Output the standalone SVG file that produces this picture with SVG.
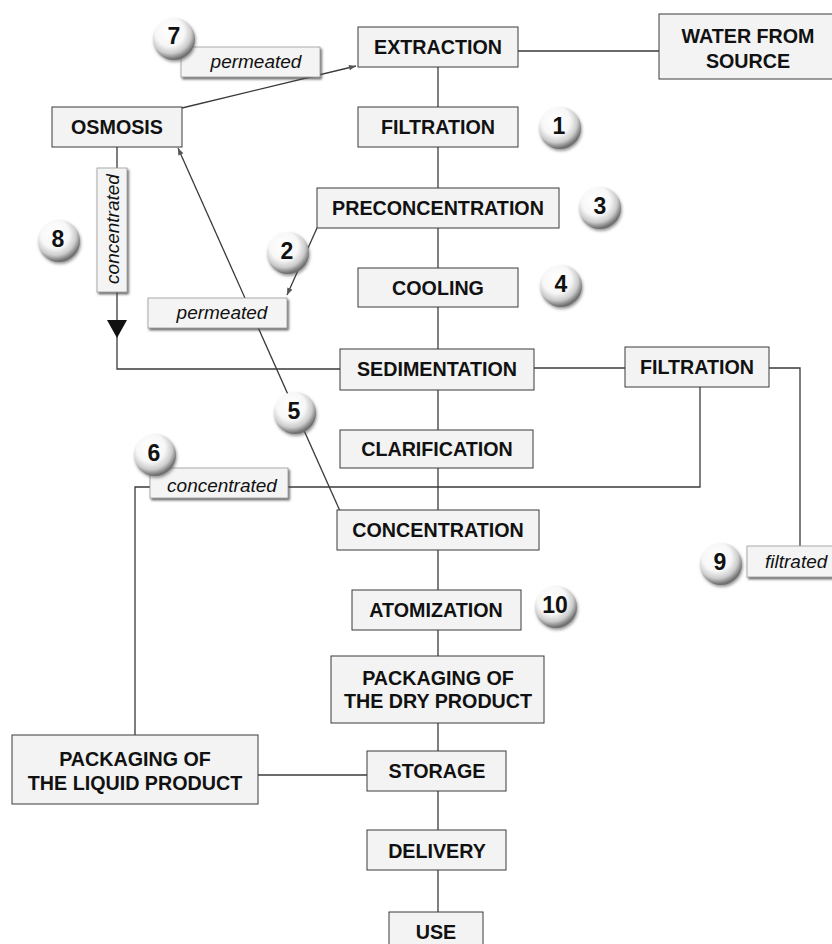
<svg xmlns="http://www.w3.org/2000/svg" width="832" height="944" viewBox="0 0 832 944">
<defs>
<style>
.box{fill:#f3f3f3;stroke:#3a3a3a;stroke-width:1}
.lbl{fill:#f4f4f4;stroke:#9a9a9a;stroke-width:0.8;filter:url(#sh)}
.t{font-family:"Liberation Sans",Arial,sans-serif;font-weight:bold;font-size:19.7px;fill:#111;text-anchor:middle}
.it{font-family:"Liberation Sans",Arial,sans-serif;font-style:italic;font-size:19px;fill:#111;text-anchor:middle}
.num{font-family:"Liberation Sans",Arial,sans-serif;font-weight:bold;font-size:23px;fill:#111;text-anchor:middle}
.ln{fill:none;stroke:#3a3a3a;stroke-width:1.3}
.ball{fill:url(#bg);filter:url(#bs)}
</style>
<radialGradient id="bg" cx="0.42" cy="0.36" r="0.62" fx="0.38" fy="0.3">
<stop offset="0" stop-color="#ffffff"/>
<stop offset="0.55" stop-color="#f7f7f7"/>
<stop offset="0.8" stop-color="#cccccc"/>
<stop offset="1" stop-color="#707070"/>
</radialGradient>
<filter id="sh" x="-10%" y="-20%" width="125%" height="160%">
<feDropShadow dx="1.5" dy="2" stdDeviation="1" flood-color="#444" flood-opacity="0.8"/>
</filter>
<filter id="bs" x="-30%" y="-30%" width="160%" height="160%">
<feDropShadow dx="1" dy="2" stdDeviation="1.5" flood-color="#555" flood-opacity="0.6"/>
</filter>
<marker id="ah" viewBox="0 0 10 10" refX="10" refY="5" markerWidth="9" markerHeight="7" markerUnits="userSpaceOnUse" orient="auto">
<path d="M0,1 L10,5 L0,9 Z" fill="#555"/>
</marker>
</defs>
<rect width="832" height="944" fill="#ffffff"/>

<g id="connectors">
<line class="ln" x1="438" y1="67" x2="438" y2="944"/>
<line class="ln" x1="518" y1="51" x2="659" y2="51"/>
<line class="ln" x1="182" y1="108" x2="356" y2="66" marker-end="url(#ah)"/>
<polyline class="ln" points="117,147 117,369 340,369"/>
<polygon points="107,320 127,320 117,338" fill="#111"/>
<line class="ln" x1="317" y1="228" x2="287" y2="295" marker-end="url(#ah)"/>
<line class="ln" x1="340" y1="511" x2="178" y2="148" marker-end="url(#ah)"/>
<line class="ln" x1="534" y1="368" x2="625" y2="368"/>
<polyline class="ln" points="769,368 800,368 800,546"/>
<polyline class="ln" points="700,387 700,487 135,487 135,735"/>
<line class="ln" x1="258" y1="775" x2="367" y2="775"/>
</g>

<g id="extraction"><rect class="box" x="358" y="27" width="160" height="40"/><text class="t" x="438" y="54">EXTRACTION</text></g>
<g id="water"><rect class="box" x="659" y="14" width="180" height="65"/><text class="t" x="748" y="43">WATER FROM</text><text class="t" x="748" y="68">SOURCE</text></g>
<g id="filtration1"><rect class="box" x="358" y="107" width="160" height="40"/><text class="t" x="438" y="134">FILTRATION</text></g>
<g id="osmosis"><rect class="box" x="52" y="107" width="130" height="40"/><text class="t" x="117" y="134">OSMOSIS</text></g>
<g id="preconcentration"><rect class="box" x="317" y="188" width="242" height="40"/><text class="t" x="438" y="215">PRECONCENTRATION</text></g>
<g id="cooling"><rect class="box" x="358" y="268" width="160" height="39"/><text class="t" x="438" y="295">COOLING</text></g>
<g id="sedimentation"><rect class="box" x="340" y="349" width="194" height="41"/><text class="t" x="437" y="376">SEDIMENTATION</text></g>
<g id="filtration2"><rect class="box" x="625" y="347" width="144" height="40"/><text class="t" x="697" y="374">FILTRATION</text></g>
<g id="clarification"><rect class="box" x="340" y="430" width="193" height="38"/><text class="t" x="437" y="456">CLARIFICATION</text></g>
<g id="concentration"><rect class="box" x="337" y="510" width="202" height="40"/><text class="t" x="438" y="537">CONCENTRATION</text></g>
<g id="atomization"><rect class="box" x="352" y="590" width="169" height="40"/><text class="t" x="436" y="617">ATOMIZATION</text></g>
<g id="packdry"><rect class="box" x="331" y="656" width="213" height="67"/><text class="t" x="438" y="685">PACKAGING OF</text><text class="t" x="438" y="708">THE DRY PRODUCT</text></g>
<g id="packliquid"><rect class="box" x="12" y="735" width="246" height="69"/><text class="t" x="135" y="766">PACKAGING OF</text><text class="t" x="135" y="790">THE LIQUID PRODUCT</text></g>
<g id="storage"><rect class="box" x="367" y="751" width="139" height="40"/><text class="t" x="437" y="778">STORAGE</text></g>
<g id="delivery"><rect class="box" x="367" y="830" width="139" height="40"/><text class="t" x="437" y="858">DELIVERY</text></g>
<g id="use"><rect class="box" x="389" y="912" width="94" height="40"/><text class="t" x="436" y="939">USE</text></g>

<g id="label7"><rect class="lbl" x="181" y="47" width="139" height="30"/><text class="it" x="256" y="68">permeated</text></g>
<g id="label2"><rect class="lbl" x="148" y="298" width="139" height="30"/><text class="it" x="222" y="319">permeated</text></g>
<g id="label6"><rect class="lbl" x="150" y="468" width="138" height="30"/><text class="it" x="222" y="492">concentrated</text></g>
<g id="label8"><rect class="lbl" x="97" y="168" width="30" height="124"/><text class="it" transform="translate(119,229) rotate(-90)" x="0" y="0">concentrated</text></g>
<g id="label9"><rect class="lbl" x="747" y="546" width="95" height="31"/><text class="it" x="765" y="568" style="text-anchor:start">filtrated</text></g>

<g id="ball7"><circle class="ball" cx="174" cy="39" r="21"/><text class="num" x="174" y="44">7</text></g>
<g id="ball1"><circle class="ball" cx="560" cy="128" r="21"/><text class="num" x="559" y="134">1</text></g>
<g id="ball3"><circle class="ball" cx="600" cy="208" r="21"/><text class="num" x="600" y="214">3</text></g>
<g id="ball8"><circle class="ball" cx="59" cy="241" r="21"/><text class="num" x="58" y="247">8</text></g>
<g id="ball2"><circle class="ball" cx="288" cy="253" r="21"/><text class="num" x="287" y="259">2</text></g>
<g id="ball4"><circle class="ball" cx="561" cy="286" r="21"/><text class="num" x="561" y="292">4</text></g>
<g id="ball5"><circle class="ball" cx="295" cy="413" r="21"/><text class="num" x="294" y="419">5</text></g>
<g id="ball6"><circle class="ball" cx="155" cy="455" r="21"/><text class="num" x="154" y="461">6</text></g>
<g id="ball9"><circle class="ball" cx="721" cy="564" r="21"/><text class="num" x="720" y="570">9</text></g>
<g id="ball10"><circle class="ball" cx="556" cy="607" r="21"/><text class="num" x="555" y="613">10</text></g>
</svg>
